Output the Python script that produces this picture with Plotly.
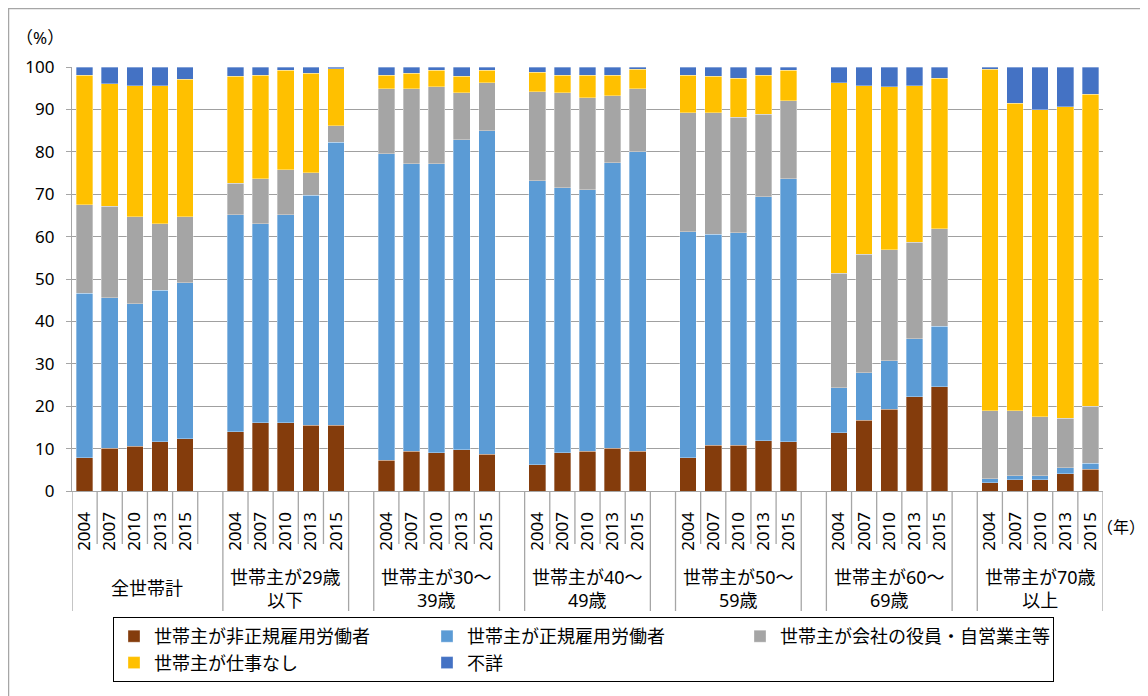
import plotly.graph_objects as go

groups = ["全世帯計", "世帯主が29歳<br>以下", "世帯主が30～<br>39歳", "世帯主が40～<br>49歳",
          "世帯主が50～<br>59歳", "世帯主が60～<br>69歳", "世帯主が70歳<br>以上"]
years = ["2004", "2007", "2010", "2013", "2015"]

series_names = ["世帯主が非正規雇用労働者", "世帯主が正規雇用労働者", "世帯主が会社の役員・自営業主等",
                "世帯主が仕事なし", "不詳"]
colors = ["#843C0C", "#5B9BD5", "#A5A5A5", "#FFC000", "#4472C4"]

nonregular = [7.9, 10.1, 10.5, 11.6, 12.3, 14.0, 16.1, 16.1, 15.5, 15.5, 7.3, 9.4, 9.0, 9.7, 8.7,
              6.2, 9.0, 9.4, 10.1, 9.4, 7.9, 10.8, 10.8, 11.9, 11.6, 13.7, 16.7, 19.3, 22.2, 24.6,
              2.0, 2.6, 2.6, 4.1, 5.1]
regular = [38.7, 35.5, 33.7, 35.8, 36.8, 51.1, 46.9, 49.0, 54.2, 66.7, 72.3, 67.8, 68.2, 73.2, 76.3,
           67.0, 62.5, 61.7, 67.3, 70.6, 53.3, 49.7, 50.1, 57.5, 62.1, 10.7, 11.2, 11.4, 13.7, 14.2,
           0.9, 1.0, 1.0, 1.4, 1.4]
executive = [20.9, 21.6, 20.5, 15.6, 15.6, 7.5, 10.7, 10.7, 5.4, 3.9, 15.3, 17.7, 18.1, 11.0, 11.3,
             21.0, 22.4, 21.7, 15.8, 14.9, 28.0, 28.7, 27.3, 19.5, 18.4, 26.9, 27.9, 26.2, 22.8, 23.1,
             16.0, 15.3, 13.9, 11.7, 13.5]
nojob = [30.6, 28.8, 30.9, 32.6, 32.4, 25.2, 24.4, 23.4, 23.4, 13.5, 3.2, 3.6, 3.9, 3.9, 2.9,
         4.6, 4.2, 5.3, 4.9, 4.6, 8.9, 8.6, 9.2, 9.2, 7.1, 45.0, 39.8, 38.4, 36.9, 35.5,
         80.6, 72.5, 72.4, 73.4, 73.6]
unknown = [1.9, 4.0, 4.4, 4.4, 2.9, 2.2, 1.9, 0.8, 1.5, 0.4, 1.9, 1.5, 0.8, 2.2, 0.8,
           1.2, 1.9, 1.9, 1.9, 0.5, 1.9, 2.2, 2.6, 1.9, 0.8, 3.7, 4.4, 4.7, 4.4, 2.6,
           0.5, 8.6, 10.1, 9.4, 6.4]

values = [nonregular, regular, executive, nojob, unknown]

# slot positions: 5 bars per group, one empty slot between groups
slot = 6
xpos = [slot * g + i for g in range(len(groups)) for i in range(len(years))]
xtext = [y for g in range(len(groups)) for y in years]

FONT = "Noto Sans, Noto Sans CJK JP, sans-serif"
OFF = 8  # page body margin
W, H = 1140, 688
L, R, T, B = 64, 45, 59, 205
pw, ph = W - L - R, H - T - B


def px_x(p):  # reference-screen pixel -> paper
    return (p - OFF - L) / pw


def px_y(p):
    return (H - B - (p - OFF)) / ph


fig = go.Figure()
for name, vals, col in zip(series_names, values, colors):
    fig.add_trace(go.Bar(
        x=xpos, y=vals, name=name,
        marker=dict(color=col, line=dict(color="rgba(255,255,255,0.55)", width=0.6)),
    ))

shapes = []
nslots = slot * len(groups) - 1  # 41
long_b = {-0.5, nslots - 0.5}
for g in range(1, len(groups)):
    long_b.add(slot * g - 0.5)
    if g >= 2:
        long_b.add(slot * g - 1.5)
for k in range(nslots + 1):
    b = k - 0.5
    y1 = px_y(611) if b in long_b else px_y(544)
    shapes.append(dict(type="line", xref="x", yref="paper", x0=b, x1=b, y0=0, y1=y1,
                       line=dict(color="#A6A6A6", width=1.3)))
# outer chart border
shapes.append(dict(type="rect", xref="paper", yref="paper", x0=px_x(8.6), x1=px_x(1160),
                   y0=px_y(8.6), y1=px_y(710), line=dict(color="#A6A6A6", width=1.3)))

annotations = []
for g, gname in enumerate(groups):
    if g == 0:
        cx = (-0.5 + slot - 0.5) / 2
    else:
        cx = slot * g + (len(years) - 1) / 2
    annotations.append(dict(x=cx, y=px_y(588), xref="x", yref="paper", text=gname,
                            showarrow=False, xanchor="center", yanchor="middle",
                            font=dict(size=18, color="#000000", family=FONT)))
annotations.append(dict(x=px_x(40), y=px_y(37), xref="paper", yref="paper", text="（%）",
                        showarrow=False, xanchor="center", yanchor="middle",
                        font=dict(size=17, color="#000000", family=FONT)))
annotations.append(dict(x=px_x(1121), y=px_y(527), xref="paper", yref="paper", text="（年）",
                        showarrow=False, xanchor="center", yanchor="middle",
                        font=dict(size=16, color="#000000", family=FONT)))

fig.update_layout(
    width=W, height=H,
    margin=dict(l=L, r=R, t=T, b=B),
    barmode="stack", bargap=0.34,
    plot_bgcolor="white", paper_bgcolor="white",
    font=dict(family=FONT, size=17, color="#000000"),
    xaxis=dict(range=[-0.5, nslots - 0.5], tickvals=xpos, ticktext=xtext, tickangle=-90,
               ticks="outside", ticklen=13, tickcolor="rgba(0,0,0,0)",
               showgrid=False, zeroline=False, showline=True, linecolor="#A6A6A6", linewidth=1.3,
               tickfont=dict(size=17, family=FONT)),
    yaxis=dict(range=[0, 100], dtick=10, showgrid=True, gridcolor="#A0A0A0", gridwidth=1.2,
               zeroline=False, showline=True, linecolor="#A6A6A6", linewidth=1.3,
               ticks="outside", ticklen=5, tickcolor="#A6A6A6", ticklabelstandoff=8,
               tickfont=dict(size=17, family=FONT)),
    legend=dict(orientation="h", x=px_x(113), y=px_y(617), xanchor="left", yanchor="top",
                bordercolor="#000000", borderwidth=1, entrywidth=268, entrywidthmode="pixels",
                font=dict(size=18, family=FONT), traceorder="normal", itemwidth=30),
    shapes=shapes, annotations=annotations,
    showlegend=True,
)

fig.write_html("out.html")
